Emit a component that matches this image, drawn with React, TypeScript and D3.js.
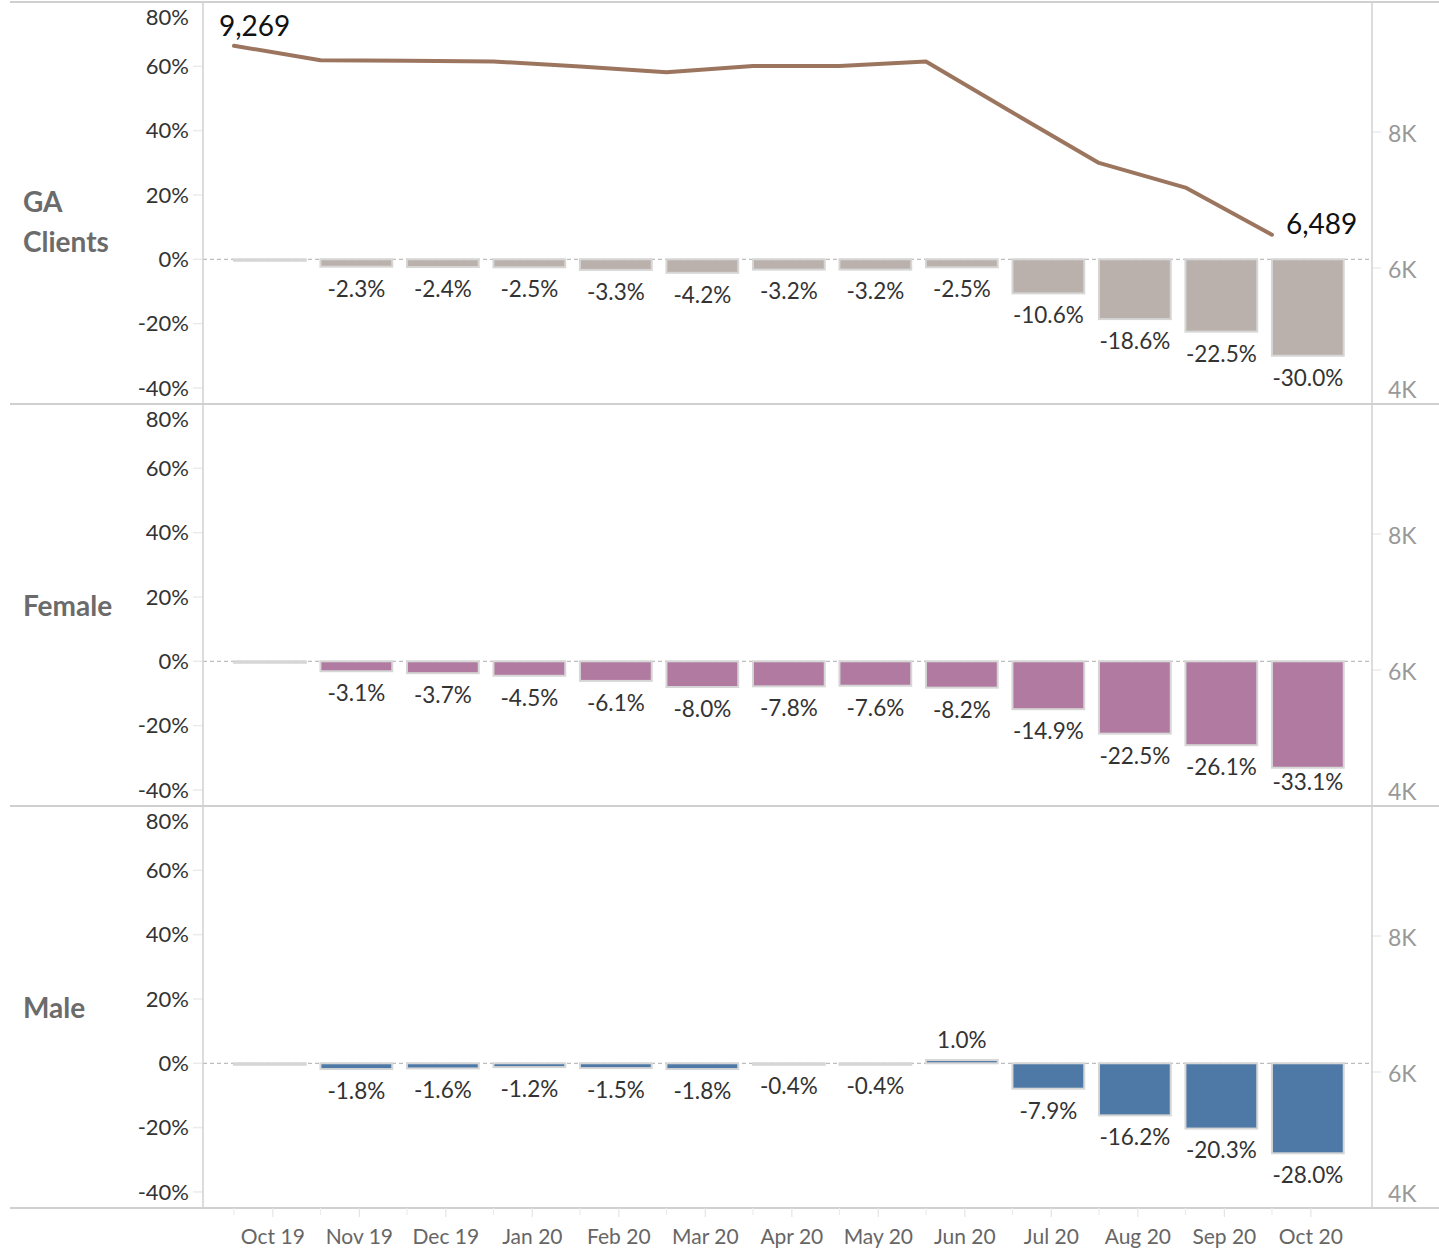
import React from "react";
import * as d3 from "d3";

const months = ["Oct 19", "Nov 19", "Dec 19", "Jan 20", "Feb 20", "Mar 20", "Apr 20", "May 20", "Jun 20", "Jul 20", "Aug 20", "Sep 20", "Oct 20"];
const gaPct = [0, -2.3, -2.4, -2.5, -3.3, -4.2, -3.2, -3.2, -2.5, -10.6, -18.6, -22.5, -30.0];
const femalePct = [0, -3.1, -3.7, -4.5, -6.1, -8.0, -7.8, -7.6, -8.2, -14.9, -22.5, -26.1, -33.1];
const malePct = [0, -1.8, -1.6, -1.2, -1.5, -1.8, -0.4, -0.4, 1.0, -7.9, -16.2, -20.3, -28.0];
const gaClients = [9269, 9056, 9047, 9037, 8963, 8880, 8972, 8972, 9037, 8286, 7545, 7183, 6489];
const leftTicks = [80, 60, 40, 20, 0, -20, -40];
const rightTicks = [4000, 6000, 8000];

const panels = [
  { title: ["GA", "Clients"], values: gaPct, color: "#bab0ac", line: true },
  { title: ["Female"], values: femalePct, color: "#b07aa1", line: false },
  { title: ["Male"], values: malePct, color: "#4e79a7", line: false },
];

const W = 1439;
const H = 1255;
const FONT = "Lato, 'Open Sans', sans-serif";
const PLOT_L = 203;
const PLOT_R = 1372;
const PANEL_TOP = 2;
const PANEL_H = 402;

export default function App() {
  const x = d3.scaleBand<string>().domain(months).range([226.6, 1351.1]).paddingInner(0.17).paddingOuter(0.085);
  const bw = x.bandwidth();
  const pct = (v: number) => v.toFixed(1) + "%";

  return (
    <svg width={W} height={H} style={{ position: "absolute", left: 0, top: 0, background: "#fff" }} fontFamily={FONT}>
      {panels.map((p, i) => {
        const top = PANEL_TOP + PANEL_H * i;
        const bottom = top + PANEL_H;
        const yL = d3.scaleLinear().domain([-45, 80]).range([bottom, top]);
        const yR = d3.scaleLinear().domain([4000, 9912]).range([bottom, top]);
        const y0 = yL(0);
        const lineGen = d3
          .line<number>()
          .x((_, j) => x(months[j])!)
          .y((v) => yR(v));
        const titleYs = p.title.length === 2 ? [212, 252] : [top + 212];
        return (
          <g key={i}>
            {leftTicks.map((t) => {
              const ty = yL(t);
              const ly = Math.max(ty, top + 15);
              return (
                <g key={t}>
                  <line x1={193} x2={PLOT_L} y1={ty} y2={ty} stroke="#ebebeb" strokeWidth={1.5} />
                  <text x={189} y={ly} dy="0.35em" textAnchor="end" fontSize={22} fill="#333">
                    {t}%
                  </text>
                </g>
              );
            })}
            {rightTicks.map((t) => {
              const ty = yR(t);
              const ly = Math.min(ty, bottom - 16);
              return (
                <g key={t}>
                  <line x1={PLOT_R} x2={1381} y1={ty} y2={ty} stroke="#ebebeb" strokeWidth={1.5} />
                  <text x={1388} y={ly + 2} dy="0.35em" textAnchor="start" fontSize={23} fill="#999">
                    {t / 1000}K
                  </text>
                </g>
              );
            })}
            {p.title.map((t, k) => (
              <text key={t} x={23} y={titleYs[k]} fontSize={28} fontWeight="bold" fill="#6b6b6b">
                {t}
              </text>
            ))}
            <line x1={PLOT_L} x2={PLOT_R} y1={y0} y2={y0} stroke="#bdbdbd" strokeWidth={1.2} strokeDasharray="4 3" />
            {p.values.map((v, j) => {
              const bx = x(months[j])!;
              const yv = yL(v);
              const ry = Math.min(yv, y0);
              const rh = Math.max(Math.abs(yv - y0), 1.5);
              const isBase = j === 0;
              return (
                <rect
                  key={j}
                  x={bx}
                  y={ry}
                  width={bw}
                  height={rh}
                  fill={isBase ? "#d4d4d4" : p.color}
                  stroke="#d6d6d6"
                  strokeWidth={2}
                />
              );
            })}
            {p.values.map((v, j) => {
              if (j === 0) return null;
              const cx = x(months[j])! + bw / 2;
              const yv = yL(v);
              const cy = v >= 0 ? yv - 20 : Math.min(yv + 22, bottom - 24);
              return (
                <text key={j} x={cx} y={cy} dy="0.35em" textAnchor="middle" fontSize={22.5} fill="#333">
                  {pct(v)}
                </text>
              );
            })}
            {p.line && (
              <g>
                <path d={lineGen(gaClients)!} fill="none" stroke="#9c755f" strokeWidth={4} strokeLinejoin="round" strokeLinecap="round" />
                <text x={x(months[0])! - 15} y={36} fontSize={28} fill="#111">
                  {d3.format(",")(gaClients[0])}
                </text>
                <text x={x(months[months.length - 1])! + 14} y={234} fontSize={28} fill="#111">
                  {d3.format(",")(gaClients[gaClients.length - 1])}
                </text>
              </g>
            )}
          </g>
        );
      })}
      {[0, 1, 2, 3].map((k) => {
        const yy = PANEL_TOP + PANEL_H * k;
        return <line key={k} x1={10} x2={W} y1={yy} y2={yy} stroke="#d0d0d0" strokeWidth={2} />;
      })}
      <line x1={PLOT_L} x2={PLOT_L} y1={PANEL_TOP} y2={PANEL_TOP + PANEL_H * 3} stroke="#d0d0d0" strokeWidth={1.5} />
      <line x1={PLOT_R} x2={PLOT_R} y1={PANEL_TOP} y2={PANEL_TOP + PANEL_H * 3} stroke="#d0d0d0" strokeWidth={1.5} />
      {months.map((m) => {
        const bx = x(m)!;
        const cx = bx + bw / 2 + 3;
        const base = PANEL_TOP + PANEL_H * 3;
        return (
          <g key={m}>
            <line x1={bx} x2={bx} y1={base} y2={base + 7} stroke="#ececec" strokeWidth={1.2} />
            <line x1={cx} x2={cx} y1={base} y2={base + 9} stroke="#e4e4e4" strokeWidth={1.2} />
            <text x={cx} y={1237} dy="0.35em" textAnchor="middle" fontSize={21} fill="#666">
              {m}
            </text>
          </g>
        );
      })}
    </svg>
  );
}
